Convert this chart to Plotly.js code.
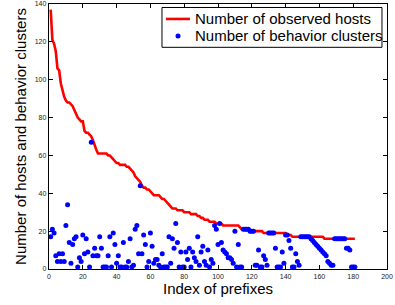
<!DOCTYPE html>
<html>
<head>
<meta charset="utf-8">
<script src="https://cdn.plot.ly/plotly-3.0.1.min.js"></script>
<style>html,body{margin:0;padding:0;background:#fff;}#chart{width:395px;height:305px;}</style>
</head>
<body>
<div id="chart"></div>
<script>
// Number of observed hosts per prefix (sorted, index 1..181)
var hostsHead = [137,121,119,115,106,105,98,94,91,89,88,88,87,86,84,82,80,79,78,78,
  73,72,72,71,70,68,65,63,61,61,61,61,61,61,60,60,59,58,57,56,
  56,55,55,55,55,54,54,53,52,51,49,48,47,46,44,43,43,42,42,41,
  40,39,39,39,39,38,37,37,36,35,34,33,32,32,32,31,31,31,31,30,
  30,30,30,29,29,29,29,28,28,27,27,26,26,26,25,25,25,25,24,24,
  24,24,23];
var hostsTail = [23,23,23,23,23,23,23,23,23,22,21,21,21,21,21,20,20,20,20,20,20,20,20,
  19,19,19,19,19,19,19,19,19,19,19,19,19,19,18,18,18,
  17,17,17,17,17,17,17,17,17,17,17,17,17,17,17,17,17,17,17,
  16,16,16,16,16,16,16,16,16,16,16,16,16,16,16,16,16,16,16];
var hosts = hostsHead.concat(hostsTail);

// Number of behavior clusters per prefix (index 1..181)
var clusters = [17,21,19,7,4,8,4,8,4,23,
  34,14,3,13,16,17,1,6,4,18,
  8,16,9,1,67,7,11,7,7,17,
  11,1,1,1,7,17,1,19,13,3,
  7,1,1,14,1,1,4,16,1,2,
  21,23,8,44,8,18,13,1,4,19,
  12,3,5,5,2,1,8,1,1,1,
  17,3,16,11,24,14,1,9,1,1,
  9,5,11,1,9,6,4,17,2,9,
  12,4,2,10,1,5,3,23,21,13,
  24,14,10,9,8,6,6,5,3,20,
  1,13,1,1,21,21,21,21,20,20,
  20,2,2,10,1,1,7,5,2,19,
  19,19,19,11,1,1,1,9,3,18,
  18,15,11,1,1,8,4,2,17,17,
  17,17,17,17,16,15,14,13,12,11,
  10,9,8,7,4,3,2,2,16,16,
  16,16,16,16,16,11,11,10,1,1,1];

var seriesNames = ['Number of observed hosts', 'Number of behavior clusters'];
var xTicks = [0,20,40,60,80,100,120,140,160,180,200];
var yTicks = [0,20,40,60,80,100,120,140];

var idx = hosts.map(function(_, i){ return i + 1; });
var idxC = clusters.map(function(_, i){ return i + 1; });

var font = 'Liberation Sans, Arial, sans-serif';
var RED = '#ff0000', BLUE = '#0000ff';

var traces = [
  {x: idx, y: hosts, type: 'scatter', mode: 'lines', name: seriesNames[0],
   line: {color: RED, width: 2.6}},
  {x: idxC, y: clusters, type: 'scatter', mode: 'markers', name: seriesNames[1],
   marker: {color: BLUE, size: 5, symbol: 'circle'}}
];

var axisCommon = {
  showline: true, linecolor: '#000', linewidth: 1.2, mirror: 'ticks',
  ticks: 'inside', ticklen: 4, tickwidth: 1, tickcolor: '#000',
  showgrid: false, zeroline: false,
  tickfont: {family: font, size: 7, color: '#222'}
};

// Legend box (drawn with paper-referenced shapes, MATLAB-style compact legend)
var lg = {x0: 0.3343, x1: 0.9852, y0: 0.8365, y1: 0.9868,
          row1: 0.9436, row2: 0.8797, lineX0: 0.3462, lineX1: 0.4172, markX: 0.3817, textX: 0.4246};

var layout = {
  width: 395, height: 305,
  margin: {l: 49, r: 8, t: 3.5, b: 35.5},
  paper_bgcolor: '#fff', plot_bgcolor: '#fff',
  showlegend: false,
  xaxis: Object.assign({}, axisCommon, {
    range: [0, 200], tickvals: xTicks, ticktext: xTicks.map(String),
    title: {text: 'Index of prefixes', font: {family: font, size: 15, color: '#000'}, standoff: 2}
  }),
  yaxis: Object.assign({}, axisCommon, {
    range: [0, 140], tickvals: yTicks, ticktext: yTicks.map(String),
    title: {text: 'Number of hosts and behavior clusters', font: {family: font, size: 15, color: '#000'}, standoff: 4}
  }),
  shapes: [
    {type: 'rect', xref: 'paper', yref: 'paper', x0: lg.x0, x1: lg.x1, y0: lg.y0, y1: lg.y1,
     fillcolor: '#fff', line: {color: '#000', width: 1}, layer: 'above'},
    {type: 'line', xref: 'paper', yref: 'paper', x0: lg.lineX0, x1: lg.lineX1, y0: lg.row1, y1: lg.row1,
     line: {color: RED, width: 2.6}, layer: 'above'},
    {type: 'circle', xref: 'paper', yref: 'paper', xsizemode: 'pixel', ysizemode: 'pixel',
     xanchor: lg.markX, yanchor: lg.row2, x0: -2.5, x1: 2.5, y0: -2.5, y1: 2.5,
     fillcolor: BLUE, line: {color: BLUE, width: 0}, layer: 'above'}
  ],
  annotations: [
    {xref: 'paper', yref: 'paper', x: lg.textX, y: lg.row1, xanchor: 'left', yanchor: 'middle',
     text: seriesNames[0], showarrow: false, font: {family: font, size: 15, color: '#000'}},
    {xref: 'paper', yref: 'paper', x: lg.textX, y: lg.row2, xanchor: 'left', yanchor: 'middle',
     text: seriesNames[1], showarrow: false, font: {family: font, size: 15, color: '#000'}}
  ]
};

Plotly.newPlot('chart', traces, layout, {displayModeBar: false, staticPlot: true});
</script>
</body>
</html>
